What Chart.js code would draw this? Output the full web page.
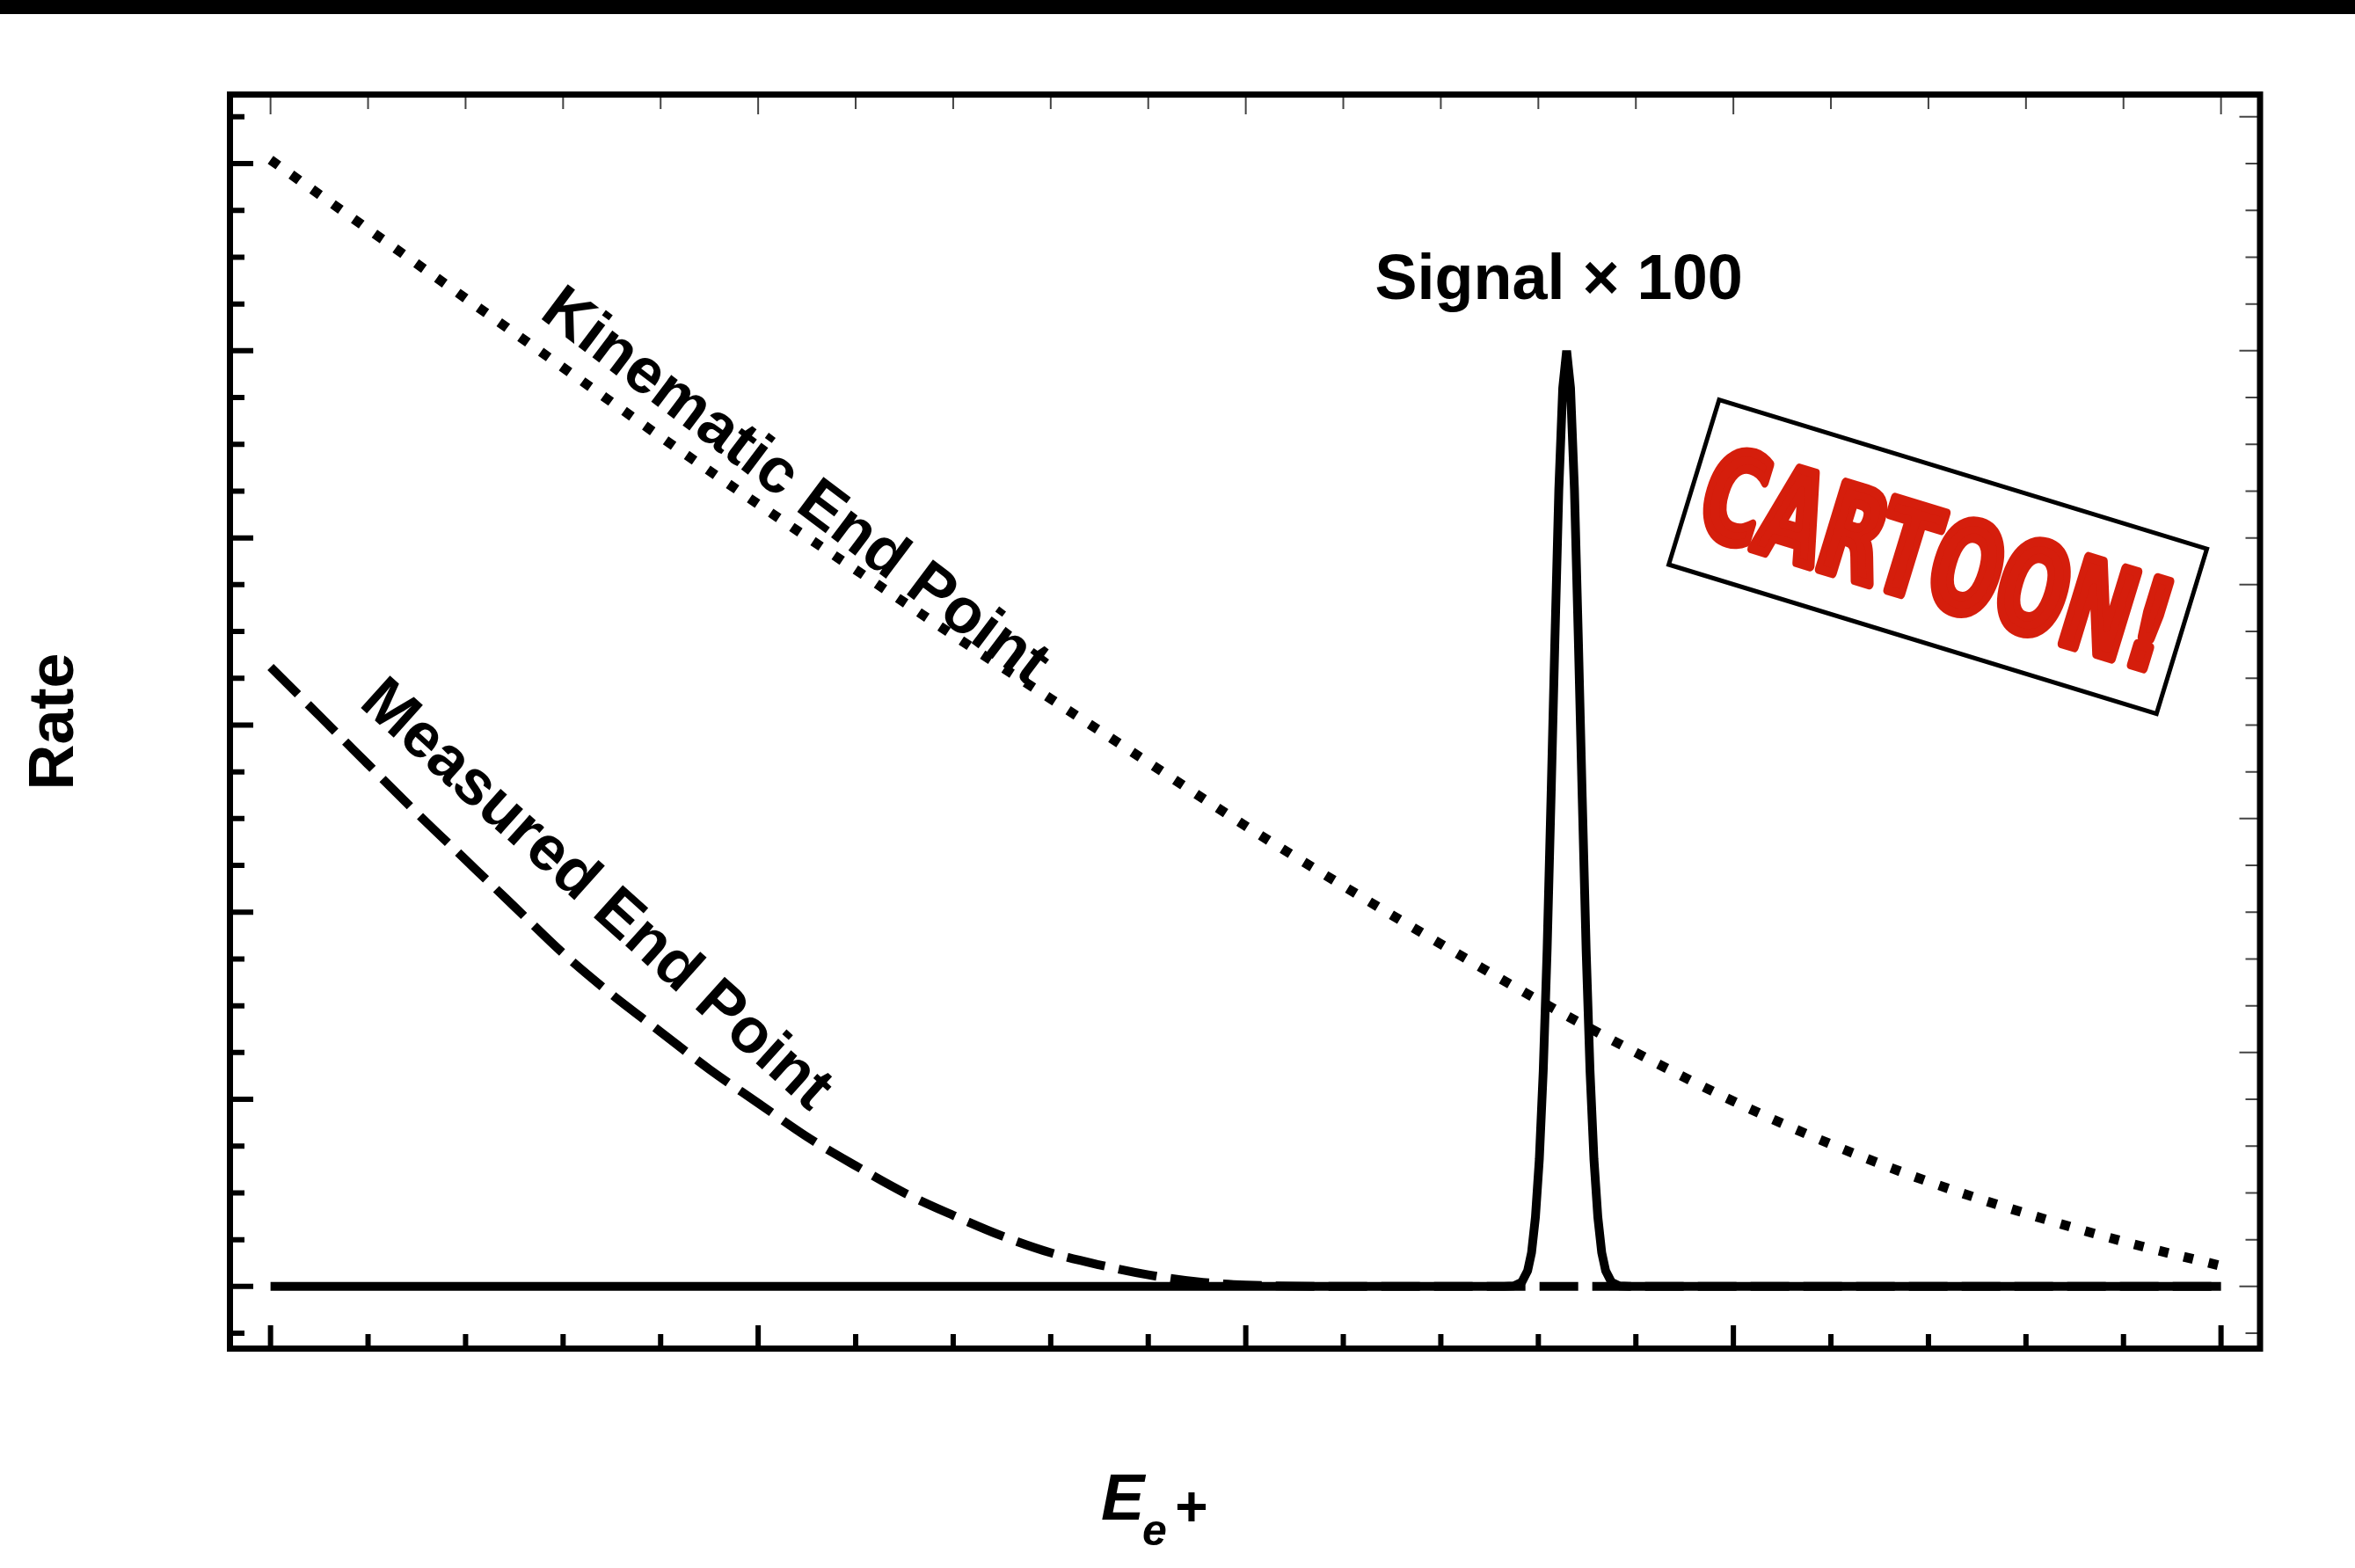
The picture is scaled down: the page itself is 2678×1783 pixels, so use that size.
<!DOCTYPE html>
<html>
<head>
<meta charset="utf-8">
<script src="https://cdn.jsdelivr.net/npm/chart.js@4.4.0/dist/chart.umd.min.js"></script>
<style>
html, body { margin: 0; padding: 0; background: #fff; }
canvas { display: block; }
</style>
</head>
<body>
<canvas id="chart" width="2678" height="1783"></canvas>
<script>
/* kinematic end point (dotted) */
var kinematicX = [0, 0.05, 0.10, 0.15, 0.20, 0.25, 0.30, 0.35, 0.40, 0.45, 0.50,
                  0.55, 0.60, 0.65, 0.70, 0.75, 0.80, 0.85, 0.90, 0.95, 1.00];
var kinematicY = [6.02, 5.65, 5.28, 4.91, 4.54, 4.18, 3.83, 3.48, 3.14, 2.80, 2.46,
                  2.14, 1.83, 1.53, 1.25, 0.99, 0.76, 0.56, 0.39, 0.24, 0.11];
/* measured end point (dashed) */
var measuredX = [0, 0.025, 0.05, 0.075, 0.10, 0.125, 0.15, 0.175, 0.20, 0.225, 0.25,
                 0.275, 0.30, 0.325, 0.35, 0.375, 0.40, 0.425, 0.45, 0.475, 0.50, 0.55, 1.00];
var measuredY = [3.31, 3.05, 2.79, 2.53, 2.28, 2.03, 1.78, 1.56, 1.36, 1.16, 0.98,
                 0.80, 0.645, 0.50, 0.38, 0.27, 0.18, 0.115, 0.062, 0.025, 0.008, 0, 0];
/* signal x 100 (solid) */
var signalX = [0, 0.6325, 0.6375, 0.6415, 0.6445, 0.6465, 0.6485, 0.6505, 0.6525, 0.6545, 0.6565,
               0.6585, 0.6605, 0.6625, 0.6645, 0.6665, 0.6685, 0.6705, 0.6725, 0.6745, 0.6765,
               0.6785, 0.6805, 0.6825, 0.6845, 0.6875, 0.6915, 0.6965, 1.00];
var signalY = [0, 0, 0.003, 0.023, 0.084, 0.18, 0.37, 0.68, 1.15, 1.80, 2.61,
               3.46, 4.26, 4.80, 5.00, 4.80, 4.26, 3.46, 2.61, 1.80, 1.15,
               0.68, 0.37, 0.18, 0.084, 0.023, 0.003, 0, 0];
/* ticks */
var xMajorTicks = [0, 0.25, 0.5, 0.75, 1];
var xMinorTicks = [0.05, 0.1, 0.15, 0.2, 0.3, 0.35, 0.4, 0.45, 0.55, 0.6, 0.65, 0.7,
                   0.8, 0.85, 0.9, 0.95];
var yMajorTicks = [0, 1, 2, 3, 4, 5, 6];
var yMinorTicks = [-0.25, 0.25, 0.5, 0.75, 1.25, 1.5, 1.75, 2.25, 2.5, 2.75, 3.25, 3.5, 3.75,
                   4.25, 4.5, 4.75, 5.25, 5.5, 5.75, 6.25];
var yRightMajorTicks = [0, 1.25, 2.5, 3.75, 5, 6.25];
var yRightMinorTicks = [-0.25, 0.25, 0.5, 0.75, 1, 1.5, 1.75, 2, 2.25, 2.75, 3, 3.25, 3.5,
                        4, 4.25, 4.5, 4.75, 5.25, 5.5, 5.75, 6];

function pts(xs, ys) {
    var out = [];
    for (var i = 0; i < xs.length; i++) out.push({x: xs[i], y: ys[i]});
    return out;
}

var FONT = '"Liberation Sans", Arial, Helvetica, sans-serif';

var decor = {
    id: 'decor',
    afterDraw: function(chart) {
        var ctx = chart.ctx, a = chart.chartArea;
        var xs = chart.scales.x, ys = chart.scales.y;
        ctx.save();
        /* black strip on top */
        ctx.fillStyle = '#000';
        ctx.fillRect(0, 0, chart.width, 16);

        /* ticks: left & bottom heavy, top & right thin */
        var fw = 7;
        ctx.strokeStyle = '#000';
        ctx.lineWidth = 6;
        ctx.beginPath();
        yMajorTicks.forEach(function(v) {
            var p = ys.getPixelForValue(v);
            ctx.moveTo(a.left, p); ctx.lineTo(a.left + fw / 2 + 23, p);
        });
        yMinorTicks.forEach(function(v) {
            var p = ys.getPixelForValue(v);
            ctx.moveTo(a.left, p); ctx.lineTo(a.left + fw / 2 + 13, p);
        });
        xMajorTicks.forEach(function(v) {
            var p = xs.getPixelForValue(v);
            ctx.moveTo(p, a.bottom); ctx.lineTo(p, a.bottom - fw / 2 - 23);
        });
        xMinorTicks.forEach(function(v) {
            var p = xs.getPixelForValue(v);
            ctx.moveTo(p, a.bottom); ctx.lineTo(p, a.bottom - fw / 2 - 13);
        });
        ctx.stroke();

        ctx.strokeStyle = '#444';
        ctx.lineWidth = 2;
        ctx.beginPath();
        yRightMajorTicks.forEach(function(v) {
            var p = ys.getPixelForValue(v);
            ctx.moveTo(a.right, p); ctx.lineTo(a.right - fw / 2 - 20, p);
        });
        yRightMinorTicks.forEach(function(v) {
            var p = ys.getPixelForValue(v);
            ctx.moveTo(a.right, p); ctx.lineTo(a.right - fw / 2 - 13, p);
        });
        xMajorTicks.forEach(function(v) {
            var p = xs.getPixelForValue(v);
            ctx.moveTo(p, a.top); ctx.lineTo(p, a.top + fw / 2 + 19);
        });
        xMinorTicks.forEach(function(v) {
            var p = xs.getPixelForValue(v);
            ctx.moveTo(p, a.top); ctx.lineTo(p, a.top + fw / 2 + 13);
        });
        ctx.stroke();

        /* frame */
        ctx.lineWidth = fw;
        ctx.strokeStyle = '#000';
        ctx.strokeRect(a.left, a.top, a.right - a.left, a.bottom - a.top);

        /* curve labels */
        ctx.fillStyle = '#000';
        ctx.font = 'bold 72px ' + FONT;
        ctx.textAlign = 'left';
        ctx.textBaseline = 'alphabetic';
        ctx.save();
        ctx.translate(xs.getPixelForValue(0.1372), ys.getPixelForValue(5.183));
        ctx.rotate(37 * Math.PI / 180);
        ctx.fillText('Kinematic End Point', 0, 0);
        ctx.restore();

        ctx.save();
        ctx.translate(xs.getPixelForValue(0.0447), ys.getPixelForValue(3.107));
        ctx.rotate(42 * Math.PI / 180);
        ctx.fillText('Measured End Point', 0, 0);
        ctx.restore();

        ctx.textAlign = 'center';
        ctx.fillText('Signal \u00d7 100', xs.getPixelForValue(0.6605), ys.getPixelForValue(5.277));

        /* axis titles */
        ctx.save();
        ctx.translate(83, (a.top + a.bottom) / 2);
        ctx.rotate(-Math.PI / 2);
        ctx.fillText('Rate', 0, 0);
        ctx.restore();

        ctx.textAlign = 'left';
        ctx.font = 'italic bold 74px ' + FONT;
        ctx.fillText('E', 1252, 1728);
        ctx.font = 'italic bold 50px ' + FONT;
        ctx.fillText('e', 1299, 1757);
        ctx.font = 'bold 64px ' + FONT;
        ctx.textAlign = 'center';
        ctx.fillText('+', 1355, 1735);

        /* CARTOON! stamp */
        ctx.save();
        ctx.translate(2203.6, 633.1);
        ctx.rotate(17 * Math.PI / 180);
        ctx.fillStyle = '#fff';
        ctx.fillRect(-290, -98, 580, 196);
        ctx.lineWidth = 5;
        ctx.strokeStyle = '#000';
        ctx.strokeRect(-290, -98, 580, 196);
        ctx.font = 'bold 160px "Liberation Sans Narrow", "DejaVu Sans Condensed", ' + FONT;
        ctx.textAlign = 'center';
        ctx.textBaseline = 'alphabetic';
        var m = ctx.measureText('CARTOON!');
        var capH = m.actualBoundingBoxAscent;
        var wid = m.actualBoundingBoxLeft + m.actualBoundingBoxRight;
        var sx = (540 - 8) / wid, sy = (114 - 8) / capH;
        ctx.scale(sx, sy);
        ctx.fillStyle = '#d51e0c';
        ctx.strokeStyle = '#d51e0c';
        ctx.lineJoin = 'round';
        ctx.lineWidth = 8 / sx;
        ctx.fillText('CARTOON!', 0, capH / 2);
        ctx.strokeText('CARTOON!', 0, capH / 2);
        ctx.restore();

        ctx.restore();
    }
};

new Chart(document.getElementById('chart'), {
    type: 'line',
    data: {
        datasets: [{
            label: 'Signal \u00d7 100',
            data: pts(signalX, signalY),
            borderColor: '#000',
            borderWidth: 10,
            borderJoinStyle: 'bevel',
            pointRadius: 0,
            tension: 0
        }, {
            label: 'Measured End Point',
            data: pts(measuredX, measuredY),
            borderColor: '#000',
            borderWidth: 10,
            borderDash: [44, 16],
            pointRadius: 0,
            cubicInterpolationMode: 'monotone'
        }, {
            label: 'Kinematic End Point',
            data: pts(kinematicX, kinematicY),
            borderColor: '#000',
            borderWidth: 11,
            borderDash: [11, 18],
            pointRadius: 0,
            cubicInterpolationMode: 'monotone'
        }]
    },
    options: {
        responsive: false,
        animation: false,
        devicePixelRatio: 1,
        layout: { padding: { left: 261.5, right: 108, top: 107.5, bottom: 249.5 } },
        plugins: { legend: { display: false }, tooltip: { enabled: false } },
        scales: {
            x: { type: 'linear', min: -0.0208, max: 1.02, display: false },
            y: { min: -0.332, max: 6.369, display: false }
        }
    },
    plugins: [decor]
});
</script>
</body>
</html>
